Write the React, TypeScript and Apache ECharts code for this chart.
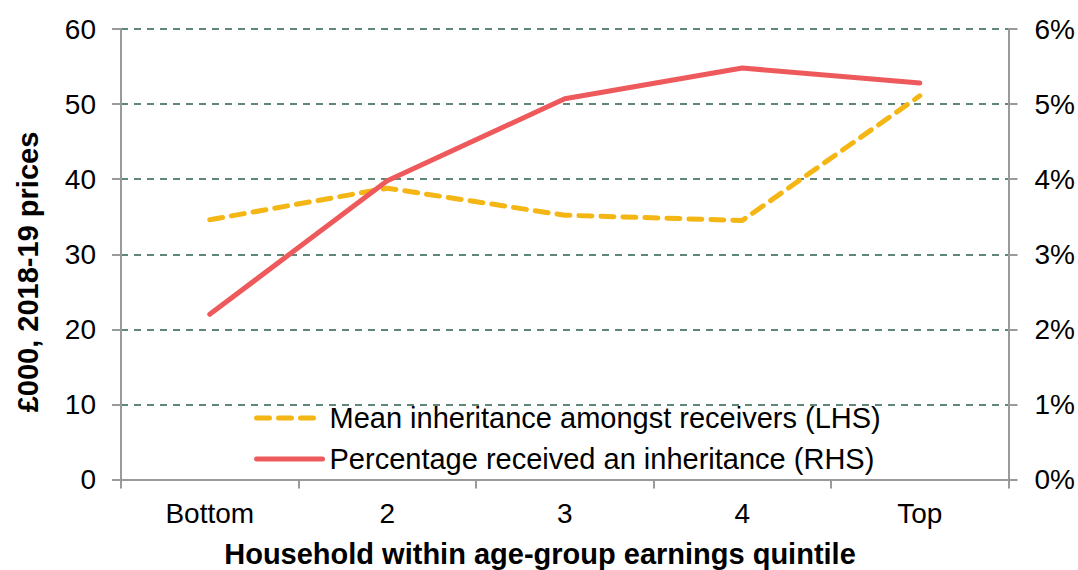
import React, { useEffect, useRef } from "react";
import * as echarts from "echarts";

const categories = ["Bottom", "2", "3", "4", "Top"];
const meanInheritance = [34.6, 38.8, 35.2, 34.5, 51.1];
const pctReceived = [2.2, 3.98, 5.07, 5.48, 5.28];
const leftTicks = { min: 0, max: 60, interval: 10 };
const rightTicks = { min: 0, max: 6, interval: 1 };

const FONT = "'Liberation Sans', Arial, sans-serif";
const SERIES_NAMES = ["Mean inheritance amongst receivers (LHS)", "Percentage received an inheritance (RHS)"];

export default function App() {
  const ref = useRef<HTMLDivElement>(null);
  useEffect(() => {
    if (!ref.current) return;
    const chart = echarts.init(ref.current, undefined, { renderer: "svg" });
    const axisLine = { show: true, lineStyle: { color: "#9a9a9a", width: 2 } };
    const axisTick = { show: true, length: 9, lineStyle: { color: "#9a9a9a", width: 2 } };
    chart.setOption({
      animation: false,
      textStyle: { fontFamily: FONT },
      grid: { left: 121, right: 69, top: 29, bottom: 90.5, containLabel: false },
      legend: {
        orient: "vertical",
        left: 249,
        top: 398,
        itemWidth: 66,
        itemHeight: 14,
        itemGap: 11,
        lineStyle: { width: 5, cap: "round" },
        textStyle: { fontSize: 29, color: "#000", fontFamily: FONT, lineHeight: 30, padding: [0, 0, 0, 2] },
        data: SERIES_NAMES.map((n) => ({ name: n, itemStyle: { opacity: 0 } })),
      },
      xAxis: {
        type: "category",
        data: categories,
        boundaryGap: true,
        axisLine,
        axisTick: { ...axisTick, alignWithLabel: false },
        axisLabel: { fontSize: 28, color: "#000", margin: 20, fontFamily: FONT },
        splitLine: { show: false },
      },
      yAxis: [
        {
          type: "value",
          ...leftTicks,
          axisLine,
          axisTick,
          axisLabel: { fontSize: 28, color: "#000", margin: 25, fontFamily: FONT },
          splitLine: { show: true, lineStyle: { color: "#2c5f48", width: 1.5, type: [7, 6] } },
        },
        {
          type: "value",
          ...rightTicks,
          position: "right",
          axisLine,
          axisTick,
          axisLabel: { fontSize: 28, color: "#000", margin: 26, formatter: "{value}%", fontFamily: FONT },
          splitLine: { show: false },
        },
      ],
      graphic: [
        {
          type: "text",
          x: 540,
          y: 554,
          style: {
            text: "Household within age-group earnings quintile",
            fontSize: 29,
            fontWeight: "bold",
            fill: "#000",
            fontFamily: FONT,
            align: "center",
            verticalAlign: "middle",
          },
        },
        {
          type: "text",
          x: 28,
          y: 272,
          rotation: Math.PI / 2,
          style: {
            text: "£000, 2018-19 prices",
            fontSize: 29,
            fontWeight: "bold",
            fill: "#000",
            fontFamily: FONT,
            align: "center",
            verticalAlign: "middle",
          },
        },
      ],
      series: [
        {
          name: SERIES_NAMES[0],
          type: "line",
          yAxisIndex: 0,
          data: meanInheritance,
          symbol: "none",
          lineStyle: { color: "#F4B614", width: 5, type: [13, 9], cap: "round" },
          itemStyle: { color: "#F4B614" },
        },
        {
          name: SERIES_NAMES[1],
          type: "line",
          yAxisIndex: 1,
          data: pctReceived,
          symbol: "none",
          lineStyle: { color: "#EE5A5C", width: 5, cap: "round" },
          itemStyle: { color: "#EE5A5C" },
        },
      ],
    });
    return () => chart.dispose();
  }, []);
  return <div ref={ref} style={{ width: 1078, height: 570, position: "absolute", left: 0, top: 0 }} />;
}
